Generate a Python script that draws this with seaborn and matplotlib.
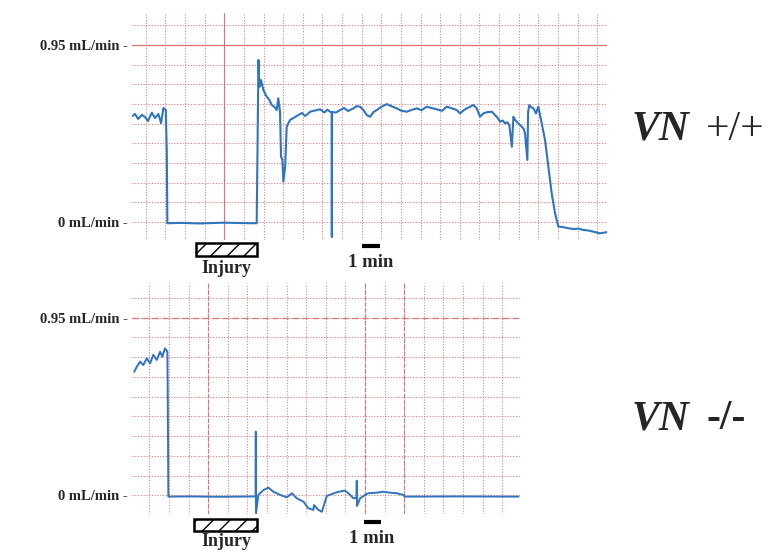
import matplotlib
matplotlib.use('Agg')
import matplotlib.pyplot as plt
from matplotlib.patches import Rectangle
import pandas as pd
import seaborn as sns

# flow traces, time in minutes (1 grid cell = 1 min), flow in mL/min
wt_time = [-0.68, -0.55, -0.39, -0.20, -0.04, 0.11, 0.31, 0.47, 0.64, 0.78,
           0.90, 1.02, 1.07, 1.10, 1.75, 2.77, 3.99, 4.80, 5.65, 5.69,
           5.74, 5.79, 5.87, 5.99, 6.16, 6.30, 6.42, 6.55, 6.67, 6.75,
           6.84, 6.89, 6.96, 7.01, 7.10, 7.18, 7.35, 7.55, 7.77, 7.95,
           8.12, 8.25, 8.37, 8.60, 8.88, 9.10, 9.25, 9.39, 9.47, 9.48,
           9.49, 9.70, 9.90, 10.10, 10.30, 10.58, 10.75, 10.92, 11.10, 11.26,
           11.43, 11.60, 11.77, 12.00, 12.28, 12.50, 12.79, 13.00, 13.30, 13.55,
           13.81, 14.05, 14.31, 14.55, 14.82, 15.10, 15.33, 15.60, 15.84, 16.01,
           16.20, 16.35, 16.55, 16.69, 16.86, 17.03, 17.20, 17.40, 17.63, 17.79,
           17.92, 18.05, 18.18, 18.30, 18.42, 18.52, 18.65, 18.73, 18.82, 18.90,
           19.02, 19.15, 19.25, 19.32, 19.44, 19.48, 19.54, 19.65, 19.75, 19.88,
           20.00, 20.17, 20.34, 20.51, 20.68, 20.85, 21.02, 21.27, 21.50, 21.78,
           22.05, 22.29, 22.55, 22.80, 23.14, 23.48]
wt_flow = [0.569, 0.580, 0.553, 0.575, 0.564, 0.542, 0.587, 0.558, 0.580, 0.531,
           0.612, 0.601, 0.377, -0.007, -0.005, -0.008, -0.004, -0.006, -0.007, 0.370,
           0.870, 0.726, 0.762, 0.709, 0.673, 0.655, 0.628, 0.618, 0.601, 0.664,
           0.592, 0.351, 0.333, 0.216, 0.297, 0.512, 0.548, 0.560, 0.574, 0.585,
           0.569, 0.580, 0.592, 0.598, 0.605, 0.588, 0.603, 0.592, 0.590, -0.081,
           0.590, 0.588, 0.601, 0.612, 0.596, 0.610, 0.622, 0.619, 0.600, 0.574,
           0.565, 0.590, 0.601, 0.618, 0.633, 0.622, 0.610, 0.598, 0.592, 0.602,
           0.610, 0.600, 0.619, 0.612, 0.605, 0.597, 0.619, 0.610, 0.601, 0.583,
           0.600, 0.610, 0.620, 0.628, 0.610, 0.565, 0.583, 0.590, 0.592, 0.574,
           0.560, 0.538, 0.545, 0.530, 0.535, 0.521, 0.404, 0.565, 0.548, 0.538,
           0.525, 0.512, 0.500, 0.476, 0.333, 0.592, 0.628, 0.615, 0.610, 0.583,
           0.619, 0.530, 0.440, 0.297, 0.154, 0.047, -0.025, -0.028, -0.033, -0.038,
           -0.036, -0.043, -0.046, -0.052, -0.061, -0.055]

ko_time = [-0.77, -0.64, -0.47, -0.31, -0.13, 0.04, 0.20, 0.38, 0.55, 0.66, 0.80, 0.92,
           0.94, 0.97, 2.08, 3.61, 5.42, 5.43, 5.44, 5.56, 5.82, 6.07, 6.33, 6.67,
           7.01, 7.27, 7.52, 7.86, 8.11, 8.37, 8.40, 8.62, 8.80, 8.96, 9.05, 9.31,
           9.64, 9.98, 10.24, 10.41, 10.57, 10.58, 10.59, 10.75, 11.01, 11.17, 11.60,
           11.94, 12.28, 12.62, 12.96, 13.02, 15.85, 18.83]
ko_flow = [0.661, 0.688, 0.715, 0.697, 0.733, 0.706, 0.751, 0.724, 0.768, 0.741, 0.786, 0.768,
           0.510, -0.006, -0.005, -0.007, -0.005, 0.341, -0.095, 0.003, 0.029, 0.042, 0.020, 0.003,
           -0.010, 0.012, -0.015, -0.033, -0.068, -0.077, -0.051, -0.077, -0.087, -0.033, -0.003, 0.008,
           0.020, 0.026, 0.003, -0.015, -0.013, 0.079, -0.056, -0.015, 0.003, 0.012, 0.015,
           0.020, 0.015, 0.012, 0.003, -0.006, -0.005, -0.006]

y_labels = {0: '0 mL/min -', 9: '0.95 mL/min -'}
panel_names = ['+/+', '-/-']

step = 0.95 / 9
trace_col = '#2f74bf'
grid_col = '#d96a6a'
serif = 'Liberation Serif'

sns.set_style('white')

fig = plt.figure(figsize=(7.69, 5.52), dpi=100)
ax1 = fig.add_axes([0.1717, 0.5652, 0.6177, 0.4112])
ax2 = fig.add_axes([0.1717, 0.0688, 0.5046, 0.4185])


def setup(ax, xlim, ylim, nmin, majors, major_ls, top_ls):
    ax.set_xlim(*xlim)
    ax.set_ylim(*ylim)
    ax.set_xticks(range(0, nmin + 1))
    ax.set_xticklabels([])
    ax.set_yticks([k * step for k in range(11)])
    ax.set_yticklabels([y_labels.get(k, '') for k in range(11)],
                       fontweight='bold', fontsize=10.5, family=serif)
    ax.tick_params(length=0, pad=3)
    ax.grid(True, color=grid_col, linestyle=(0, (1, 1.5)), lw=0.8, alpha=0.85)
    ax.set_axisbelow(True)
    for s in ax.spines.values():
        s.set_visible(False)
    for m in majors:
        ax.axvline(m, color=grid_col, lw=0.8, ls=major_ls, alpha=0.9, zorder=0.5)
    ax.axhline(0.95, color=grid_col, lw=0.9, ls=top_ls, alpha=0.9, zorder=0.5)
    ax.set_xlabel('')
    ax.set_ylabel('')


def extras(ax, inj, inj_txt, bar, bar_txt):
    r = Rectangle((inj[0], inj[2]), inj[1] - inj[0], inj[3] - inj[2], facecolor='white',
                  edgecolor='black', lw=1.8, hatch='//', clip_on=False)
    ax.add_patch(r)
    ax.text(inj_txt[0], inj_txt[1], 'Injury', ha='center', va='center', fontsize=13,
            fontweight='bold', family=serif, clip_on=False)
    ax.plot([bar[0], bar[1]], [bar[2], bar[2]], color='black', lw=3, clip_on=False,
            solid_capstyle='butt')
    ax.text(bar_txt[0], bar_txt[1], '1 min', ha='center', va='center', fontsize=13.5,
            fontweight='bold', family=serif, clip_on=False)


df_wt = pd.DataFrame({'t': wt_time, 'flow': wt_flow})
df_ko = pd.DataFrame({'t': ko_time, 'flow': ko_flow})

sns.lineplot(data=df_wt, x='t', y='flow', ax=ax1, color=trace_col, lw=1.5,
             estimator=None, sort=False)
sns.lineplot(data=df_ko, x='t', y='flow', ax=ax2, color=trace_col, lw=1.4,
             estimator=None, sort=False)

setup(ax1, (-0.70, 23.50), (-0.097, 1.122), 23, [4], '-', '-')
setup(ax2, (-0.883, 18.91), (-0.099, 1.135), 18, [3, 11, 13], (0, (4, 1.5)), (0, (5, 3)))

extras(ax1, (2.56, 5.67, -0.113, -0.1825), (4.09, -0.25), (11.02, 11.94, -0.129), (11.48, -0.217))
extras(ax2, (2.28, 5.49, -0.1255, -0.1896), (3.92, -0.245), (10.95, 11.82, -0.1415), (11.36, -0.229))

for name, yb in zip(panel_names, [140, 429]):
    y = 1 - yb / 552
    fig.text(632 / 769, y, 'VN', fontsize=30, fontweight='bold', style='italic',
             family=serif, va='baseline')
    fig.text(706 / 769, y, name, fontsize=30, family=serif, va='baseline',
             fontweight='bold' if name == '-/-' else 'normal')

fig.savefig('out.png', dpi=100)
